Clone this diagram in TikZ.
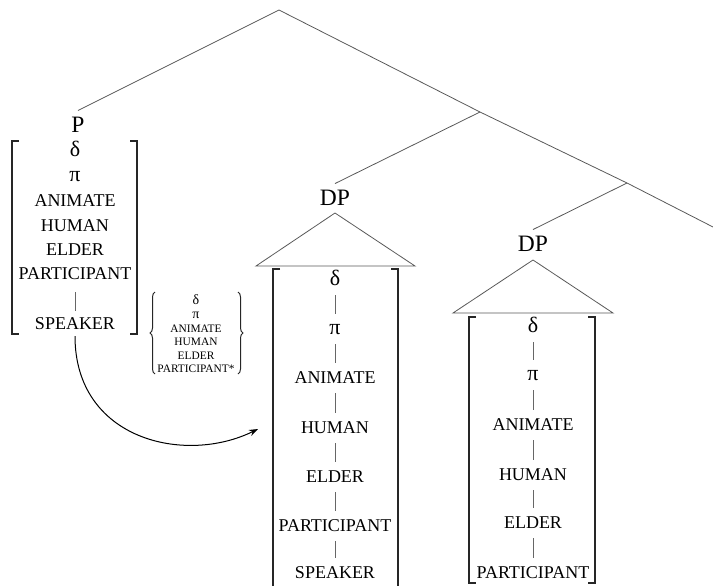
\documentclass[tikz,border=0pt]{standalone}
\usepackage{fontspec}
\setmainfont{Liberation Serif}
\usetikzlibrary{arrows.meta,decorations.pathreplacing}
\begin{document}
\begin{tikzpicture}[x=1pt,y=-1pt,
  treeline/.style={draw=black!65, line width=0.8pt},
  featline/.style={draw=black!60, line width=0.8pt, shorten <=9pt, shorten >=9pt},
  bracketline/.style={draw=black!85, line width=1.3pt},
  feat/.style={font=\fontsize{18}{21}\selectfont, text height=11.9pt, text depth=0pt, inner sep=0pt, anchor=center},
  greek/.style={feat, font=\fontsize{22}{24}\selectfont},
  cat/.style={font=\fontsize{23.5}{26}\selectfont, text height=15.5pt, text depth=0pt, inner xsep=1pt, inner ysep=6.5pt, anchor=center},
  smallfeat/.style={font=\fontsize{11.4}{13.6}\selectfont, align=center, inner sep=0pt},
  bracearc/.style={draw=black!85, line width=1pt, decorate, decoration={brace, amplitude=5pt}},
  movearrow/.style={draw=black, line width=1pt, -{Stealth[length=9pt,width=6.5pt]}}
]
\useasboundingbox (0,0) rectangle (713,586);

% tree skeleton
\coordinate (root) at (279,10);
\coordinate (n1) at (480,112);
\coordinate (n2) at (627,183);
\coordinate (rend) at (713,227);

\node[cat] (P) at (78,125) {P};
\node[cat] (DP1) at (335,198) {DP};
\node[cat] (DP2) at (533,244) {DP};

\draw[treeline] (P.north) -- (root) -- (n1) -- (n2) -- (rend);
\draw[treeline] (n1) -- (DP1.north);
\draw[treeline] (n2) -- (DP2.north);

% triangles
\coordinate (t1a) at (335,213);
\coordinate (t1l) at (256,266);
\coordinate (t1r) at (415,266);
\draw[treeline] (t1l) -- (t1a) -- (t1r) -- cycle;
\coordinate (t2a) at (533,260);
\coordinate (t2l) at (453,313);
\coordinate (t2r) at (613,313);
\draw[treeline] (t2l) -- (t2a) -- (t2r) -- cycle;

% left feature box
\node[greek] (L1) at (75,151) {δ};
\node[greek] (L2) at (75,176) {π};
\node[feat] (L3) at (75,201) {ANIMATE};
\node[feat] (L4) at (75,226) {HUMAN};
\node[feat] (L5) at (75,250) {ELDER};
\node[feat] (L6) at (75,274) {PARTICIPANT};
\node[feat] (L7) at (75,324) {SPEAKER};
\draw[featline, shorten <=12pt, shorten >=7pt] (L6) -- (L7);
\draw[bracketline] (19,141) -- (12,141) -- (12,334) -- (19,334);
\draw[bracketline] (130,141) -- (137,141) -- (137,334) -- (130,334);

% brace group
\node[smallfeat] (S) at (196,334) {{\fontsize{14}{13.6}\selectfont δ}\\{\fontsize{14}{13.6}\selectfont π}\\ANIMATE\\HUMAN\\ELDER\\PARTICIPANT*};
\draw[bracearc] (155,374) -- (155,292);
\draw[bracearc] (238,292) -- (238,374);

% DP1 feature box
\node[greek] (A1) at (335,280) {δ};
\node[greek] (A2) at (335,329) {π};
\node[feat] (A3) at (335,378) {ANIMATE};
\node[feat] (A4) at (335,428) {HUMAN};
\node[feat] (A5) at (335,477) {ELDER};
\node[feat] (A6) at (335,526) {PARTICIPANT};
\node[feat] (A7) at (335,573) {SPEAKER};
\foreach \a/\b in {A1/A2,A2/A3,A3/A4,A4/A5,A5/A6,A6/A7}
  \draw[featline] (\a) -- (\b);
\draw[bracketline] (280,269) -- (273,269) -- (273,592) -- (280,592);
\draw[bracketline] (391,269) -- (398,269) -- (398,592) -- (391,592);

% DP2 feature box
\node[greek] (B1) at (533,327) {δ};
\node[greek] (B2) at (533,375) {π};
\node[feat] (B3) at (533,425) {ANIMATE};
\node[feat] (B4) at (533,475) {HUMAN};
\node[feat] (B5) at (533,523) {ELDER};
\node[feat] (B6) at (533,573) {PARTICIPANT};
\foreach \a/\b in {B1/B2,B2/B3,B3/B4,B4/B5,B5/B6}
  \draw[featline] (\a) -- (\b);
\draw[bracketline] (476,317) -- (469,317) -- (469,583) -- (476,583);
\draw[bracketline] (588,317) -- (595,317) -- (595,583) -- (588,583);

% movement arrow
\coordinate (goal) at (258,429);
\draw[movearrow, shorten <=6pt] (L7.south) .. controls (75,440) and (185,465) .. (goal);
\end{tikzpicture}
\end{document}
